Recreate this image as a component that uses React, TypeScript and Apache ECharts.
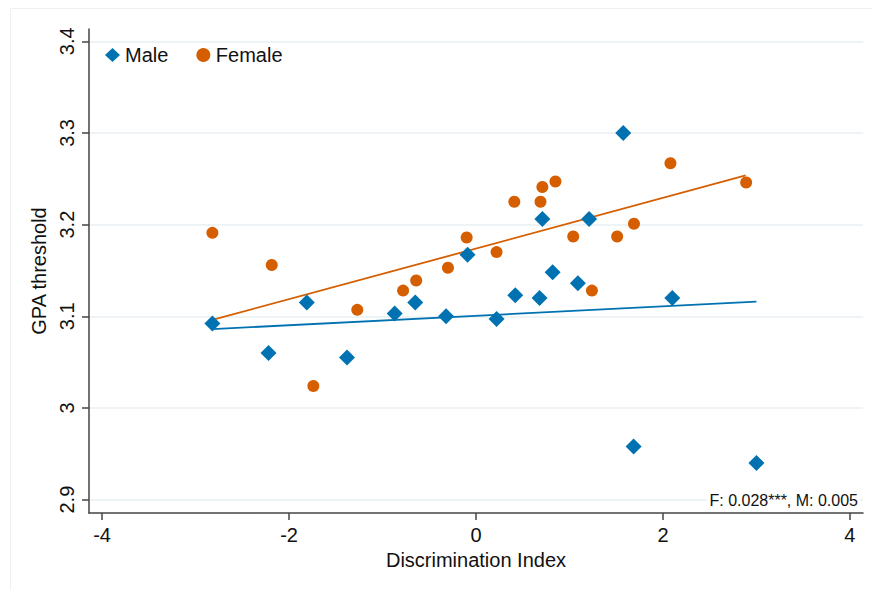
import { useEffect, useRef } from 'react';
import * as echarts from 'echarts';

// Discrimination index (x) and GPA threshold (y) per group
const maleX = [-2.82, -2.22, -1.81, -1.38, -0.87, -0.65, -0.32, -0.09, 0.22, 0.42, 0.68, 0.71, 0.82, 1.09, 1.21, 1.575, 1.686, 2.1, 3.0];
const maleY = [3.092, 3.06, 3.115, 3.055, 3.103, 3.115, 3.1, 3.167, 3.097, 3.123, 3.12, 3.206, 3.148, 3.136, 3.206, 3.3, 2.958, 3.12, 2.94];

const femaleX = [-2.82, -2.185, -1.74, -1.27, -0.78, -0.64, -0.3, -0.1, 0.22, 0.41, 0.69, 0.71, 0.85, 1.04, 1.24, 1.51, 1.69, 2.08, 2.89];
const femaleY = [3.191, 3.156, 3.024, 3.107, 3.128, 3.139, 3.153, 3.186, 3.17, 3.225, 3.225, 3.241, 3.247, 3.187, 3.128, 3.187, 3.201, 3.267, 3.246];

// fitted line end points
const maleFitX = [-2.82, 3.0];
const maleFitY = [3.086, 3.116];
const femaleFitX = [-2.82, 2.885];
const femaleFitY = [3.096, 3.2536];

const xTicks = [-4, -2, 0, 2, 4];
const yTicks = [2.9, 3, 3.1, 3.2, 3.3, 3.4];

const BLUE = '#0072B2';
const ORANGE = '#D55E00';
const FONT = '"Liberation Sans", Arial, sans-serif';

const zip = (xs: number[], ys: number[]) => xs.map((x, i) => [x, ys[i]]);

export default function App() {
    const chartRef = useRef<HTMLDivElement>(null);

    useEffect(() => {
        if (!chartRef.current) return;
        const chart = echarts.init(chartRef.current, null, { renderer: 'svg' });

        const option: echarts.EChartsOption = {
            animation: false,
            backgroundColor: '#fff',
            textStyle: { fontFamily: FONT },
            grid: { left: 89, right: 9, top: 29, bottom: 77 },
            legend: {
                left: 100,
                top: 40,
                itemWidth: 15,
                itemHeight: 14,
                itemGap: 28,
                textStyle: { fontSize: 20, color: '#111', fontFamily: FONT },
                data: [
                    { name: 'Male', icon: 'diamond' },
                    { name: 'Female', icon: 'circle' }
                ]
            },
            xAxis: {
                type: 'value',
                min: -4.14,
                max: 4.14,
                name: 'Discrimination Index',
                nameLocation: 'middle',
                nameGap: 32,
                nameTextStyle: { fontSize: 20, color: '#111' },
                axisLine: { show: true, onZero: false, lineStyle: { color: '#444', width: 1.5 } },
                axisTick: { show: true, length: 7, customValues: xTicks, lineStyle: { color: '#444', width: 1.5 } },
                axisLabel: { fontSize: 20, color: '#111', margin: 12, customValues: xTicks },
                splitLine: { show: false }
            },
            yAxis: {
                type: 'value',
                min: 2.8854,
                max: 3.4134,
                name: 'GPA threshold',
                nameLocation: 'middle',
                nameGap: 33,
                nameTextStyle: { fontSize: 20, color: '#111' },
                axisLine: { show: true, onZero: false, lineStyle: { color: '#444', width: 1.5 } },
                axisTick: { show: true, length: 7, customValues: yTicks, lineStyle: { color: '#444', width: 1.5 } },
                axisLabel: {
                    fontSize: 20,
                    color: '#111',
                    rotate: 90,
                    margin: 12,
                    customValues: yTicks,
                    formatter: (v: number) => String(Math.round(v * 10) / 10)
                },
                splitLine: { show: true, lineStyle: { color: '#e9f0f2', width: 1.5 } }
            },
            graphic: [
                {
                    type: 'rect',
                    shape: { x: 10.5, y: 8.5, width: 900, height: 620 },
                    style: { fill: 'none', stroke: '#f0f0f0', lineWidth: 1 },
                    silent: true
                },
                {
                    type: 'text',
                    right: 12,
                    top: 491,
                    z: 10,
                    style: {
                        text: 'F: 0.028***, M: 0.005',
                        fontSize: 16,
                        fill: '#111',
                        fontFamily: FONT,
                        backgroundColor: '#fff',
                        padding: [1, 2, 1, 2]
                    }
                }
            ],
            series: [
                {
                    name: 'Female fit',
                    type: 'line',
                    data: zip(femaleFitX, femaleFitY),
                    showSymbol: false,
                    lineStyle: { color: ORANGE, width: 1.8 },
                    z: 2
                },
                {
                    name: 'Male fit',
                    type: 'line',
                    data: zip(maleFitX, maleFitY),
                    showSymbol: false,
                    lineStyle: { color: BLUE, width: 1.8 },
                    z: 2
                },
                {
                    name: 'Female',
                    type: 'scatter',
                    data: zip(femaleX, femaleY),
                    symbol: 'circle',
                    symbolSize: 12,
                    itemStyle: { color: ORANGE, opacity: 1 },
                    z: 3
                },
                {
                    name: 'Male',
                    type: 'scatter',
                    data: zip(maleX, maleY),
                    symbol: 'diamond',
                    symbolSize: 16,
                    itemStyle: { color: BLUE, opacity: 1 },
                    z: 4
                }
            ]
        };

        chart.setOption(option);
        return () => chart.dispose();
    }, []);

    return <div ref={chartRef} style={{ position: 'fixed', left: 0, top: 0, width: 872, height: 590 }} />;
}
